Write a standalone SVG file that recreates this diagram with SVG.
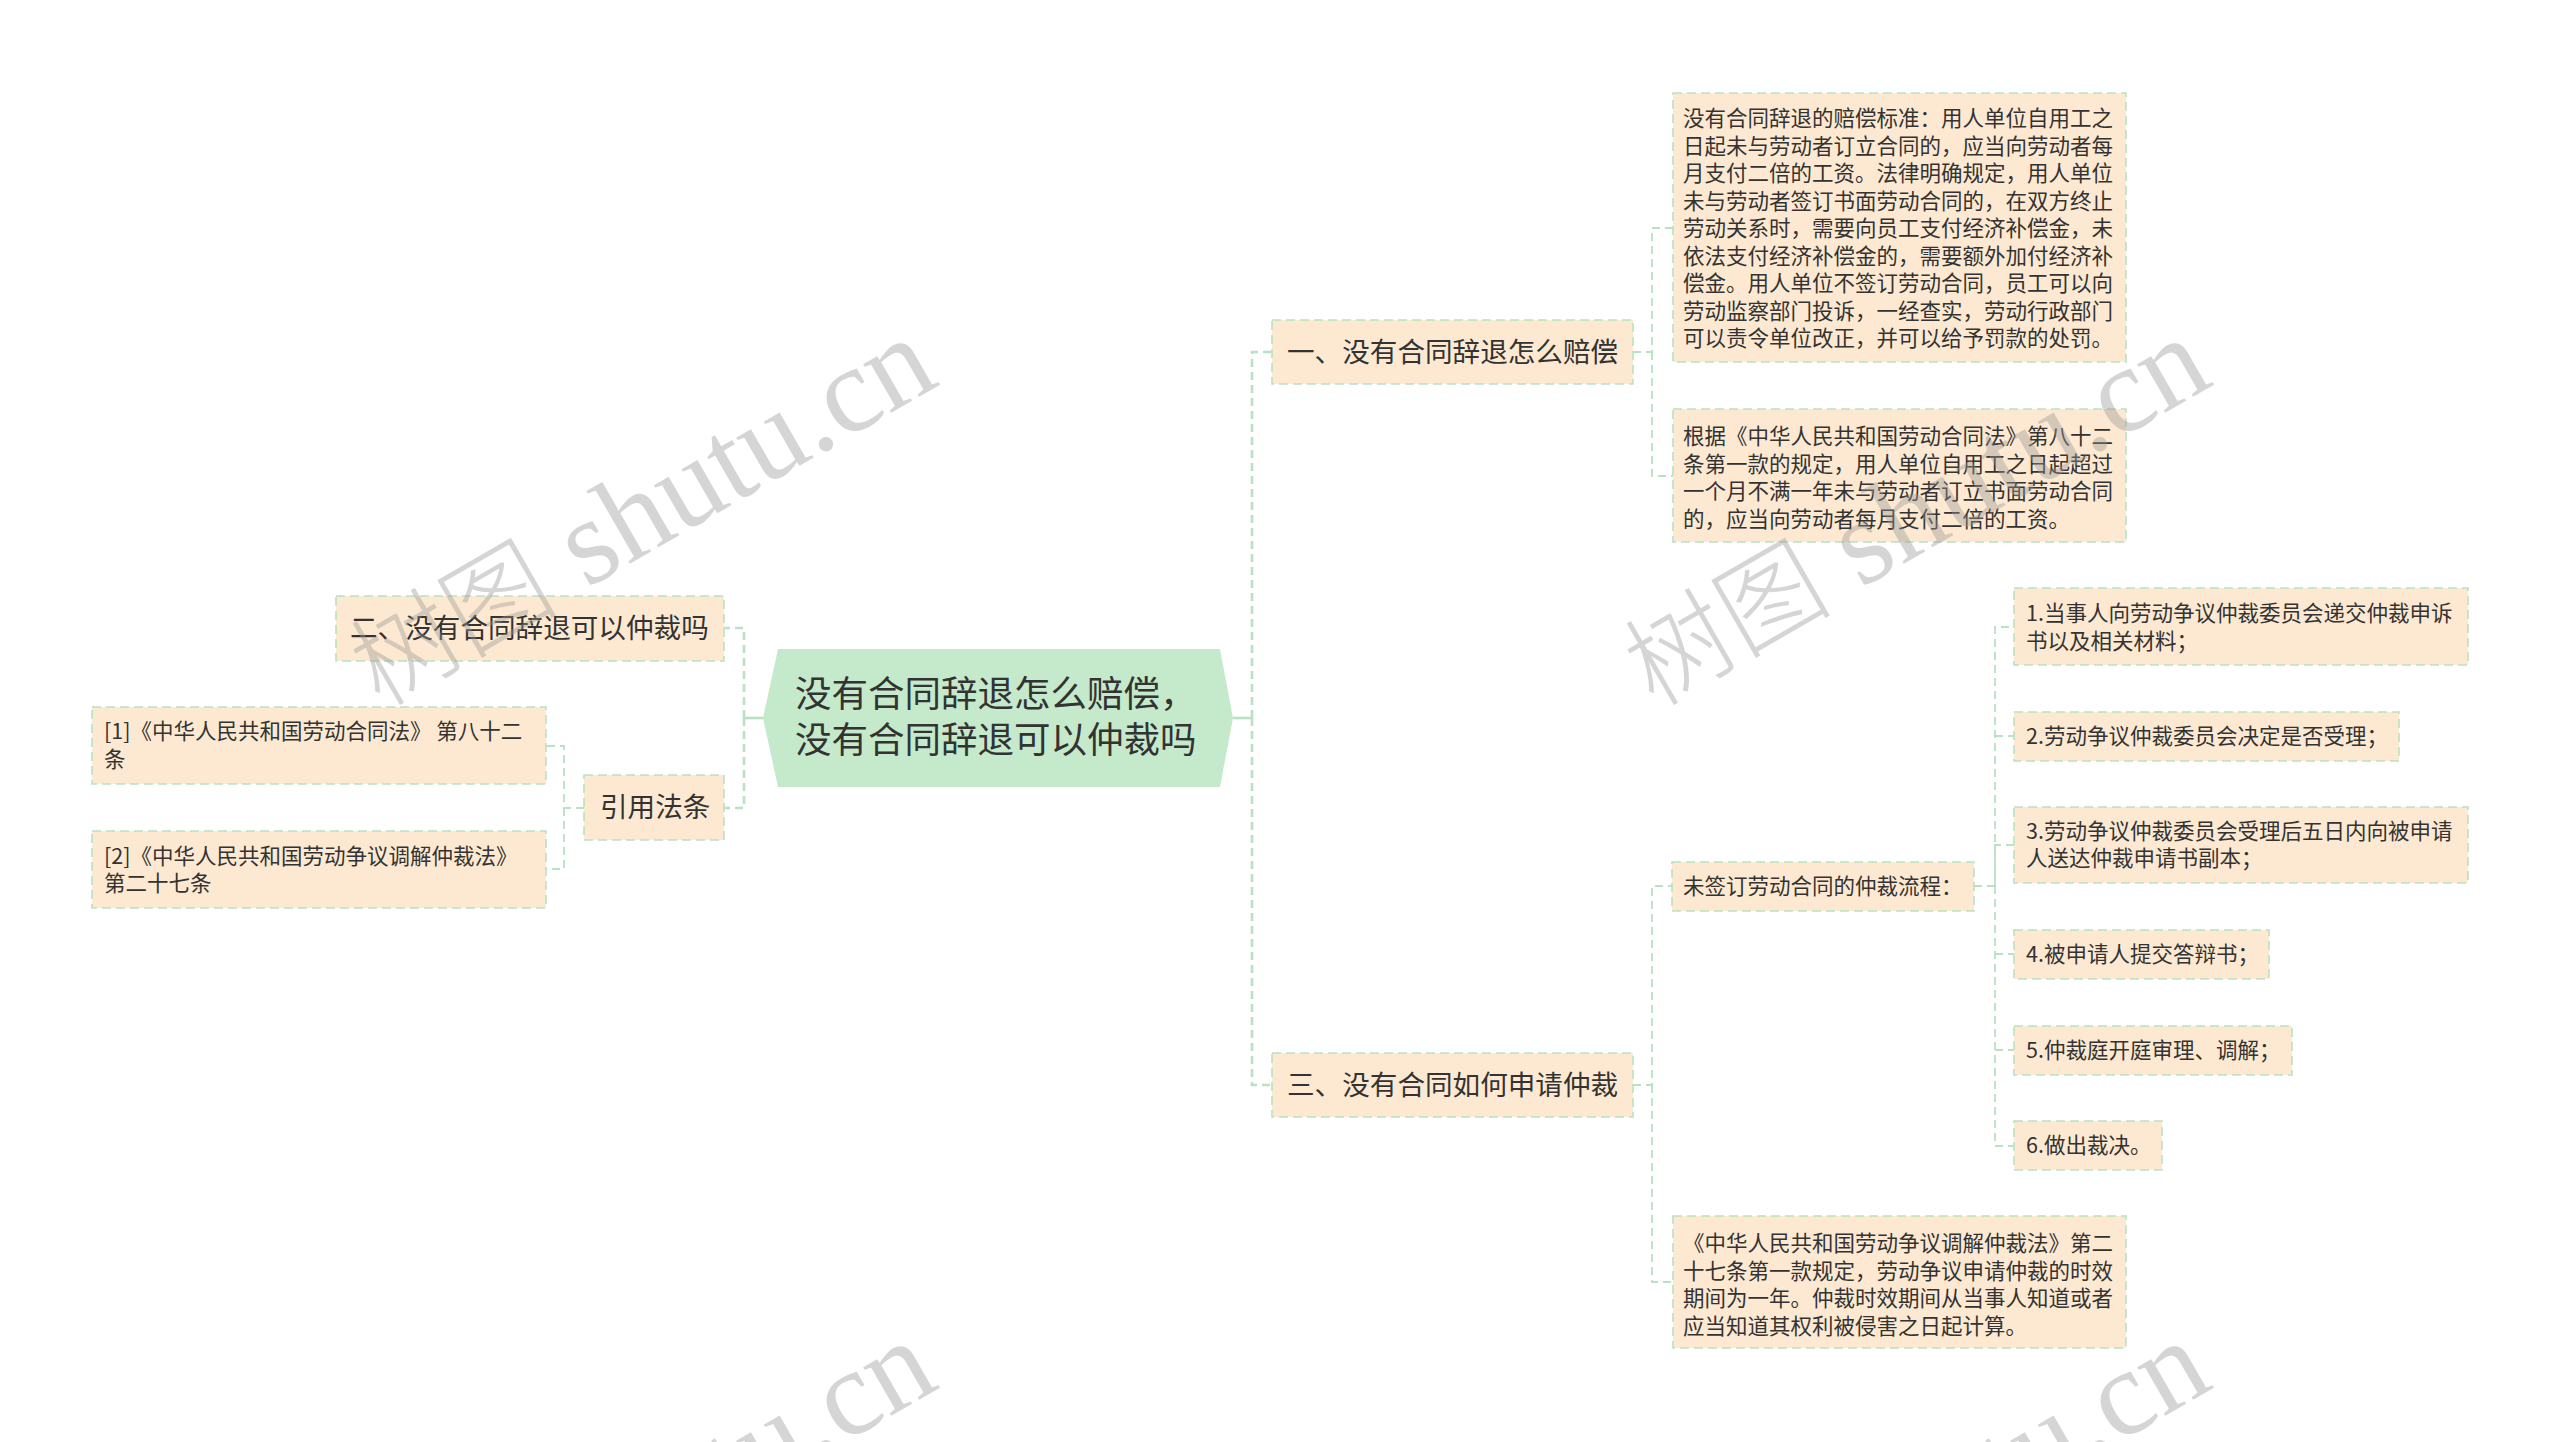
<svg xmlns="http://www.w3.org/2000/svg" width="2560" height="1442" viewBox="0 0 2560 1442">
<style>
.box{fill:#fde9d1;stroke:#b9e1c4;stroke-width:1.6;stroke-dasharray:9 5}
.t{font-family:"Noto Sans CJK SC","Microsoft YaHei",sans-serif;fill:#333333}
.s{font-size:21.5px}
.m{font-size:27.6px}
.c{font-size:36.5px}
.ln{fill:none;stroke:#b9e1c4;stroke-width:1.8;stroke-dasharray:8 5}
.ln1{fill:none;stroke:#b9e1c4;stroke-width:2.6;stroke-dasharray:8 5}
.solid{fill:none;stroke:#b9e1c4;stroke-width:2.6}
.wm{font-family:"Liberation Serif","Noto Sans CJK SC",serif;font-size:122px;fill:#969696;fill-opacity:0.4}
.wmc{font-family:"Noto Sans CJK SC",sans-serif;font-size:104px;font-weight:300}
</style>
<defs>
<text id="wmt" class="wm" x="0" y="0" transform="rotate(-30)"><tspan class="wmc">树图</tspan> shutu.cn</text>
</defs>
<rect width="2560" height="1442" fill="#ffffff"/>
<g id="connectors">
<path class="solid" d="M1233,718 H1252"/>
<path class="ln1" d="M1252,718 V352 H1272"/>
<path class="ln1" d="M1252,718 V1085 H1272"/>
<path class="solid" d="M763,718 H744"/>
<path class="ln1" d="M744,718 V628 H724"/>
<path class="ln1" d="M744,718 V808 H724"/>
<path class="ln" d="M584,808 H564 V746 H546"/>
<path class="ln" d="M564,808 V869 H546"/>
<path class="ln" d="M1633,352 H1652 V228 H1673"/>
<path class="ln" d="M1652,352 V476 H1673"/>
<path class="ln" d="M1633,1085 H1652 V886 H1672"/>
<path class="ln" d="M1652,1085 V1282 H1673"/>
<path class="ln" d="M1974,886 H1995 V627 H2014"/>
<path class="ln" d="M1995,736 H2014"/>
<path class="ln" d="M1995,886 V845 H2014"/>
<path class="ln" d="M1995,886 V1146 H2014"/>
<path class="ln" d="M1995,954 H2014"/>
<path class="ln" d="M1995,1050 H2014"/>
</g>
<g id="root">
<polygon points="763,718 778,649 1220,649 1233,718 1220,787 778,787" fill="#c5eacb"/>
<text class="t c" x="795" y="707">没有合同辞退怎么赔偿，</text>
<text class="t c" x="795" y="753">没有合同辞退可以仲裁吗</text>
</g>
<g id="n1">
<rect class="box" x="1272" y="320" width="361" height="64"/>
<text class="t m" x="1287" y="362">一、没有合同辞退怎么赔偿</text>
</g>
<g id="n1a">
<rect class="box" x="1673" y="93" width="453" height="269"/>
<text class="t s" x="1683" y="126">没有合同辞退的赔偿标准：用人单位自用工之</text>
<text class="t s" x="1683" y="153.5">日起未与劳动者订立合同的，应当向劳动者每</text>
<text class="t s" x="1683" y="181">月支付二倍的工资。法律明确规定，用人单位</text>
<text class="t s" x="1683" y="208.5">未与劳动者签订书面劳动合同的，在双方终止</text>
<text class="t s" x="1683" y="236">劳动关系时，需要向员工支付经济补偿金，未</text>
<text class="t s" x="1683" y="263.5">依法支付经济补偿金的，需要额外加付经济补</text>
<text class="t s" x="1683" y="291">偿金。用人单位不签订劳动合同，员工可以向</text>
<text class="t s" x="1683" y="318.5">劳动监察部门投诉，一经查实，劳动行政部门</text>
<text class="t s" x="1683" y="346">可以责令单位改正，并可以给予罚款的处罚。</text>
</g>
<g id="n1b">
<rect class="box" x="1673" y="409" width="453" height="133"/>
<text class="t s" x="1683" y="444">根据《中华人民共和国劳动合同法》第八十二</text>
<text class="t s" x="1683" y="471.5">条第一款的规定，用人单位自用工之日起超过</text>
<text class="t s" x="1683" y="499">一个月不满一年未与劳动者订立书面劳动合同</text>
<text class="t s" x="1683" y="526.5">的，应当向劳动者每月支付二倍的工资。</text>
</g>
<g id="n2">
<rect class="box" x="336" y="596" width="388" height="65"/>
<text class="t m" x="350" y="638">二、没有合同辞退可以仲裁吗</text>
</g>
<g id="n4">
<rect class="box" x="584" y="775" width="140" height="65"/>
<text class="t m" x="600" y="817">引用法条</text>
</g>
<g id="n4a">
<rect class="box" x="92" y="707" width="454" height="77"/>
<text class="t s" x="104" y="739">[1]《中华人民共和国劳动合同法》 第八十二</text>
<text class="t s" x="104" y="767">条</text>
</g>
<g id="n4b">
<rect class="box" x="92" y="831" width="454" height="77"/>
<text class="t s" x="104" y="864">[2]《中华人民共和国劳动争议调解仲裁法》</text>
<text class="t s" x="104" y="891">第二十七条</text>
</g>
<g id="n3">
<rect class="box" x="1272" y="1053" width="361" height="64"/>
<text class="t m" x="1287" y="1095">三、没有合同如何申请仲裁</text>
</g>
<g id="n3a">
<rect class="box" x="1672" y="862" width="302" height="49"/>
<text class="t s" x="1683" y="893.5">未签订劳动合同的仲裁流程：</text>
</g>
<g id="s1">
<rect class="box" x="2014" y="588" width="454" height="77"/>
<text class="t s" x="2026" y="621">1.当事人向劳动争议仲裁委员会递交仲裁申诉</text>
<text class="t s" x="2026" y="648.5">书以及相关材料；</text>
</g>
<g id="s2">
<rect class="box" x="2014" y="712" width="385" height="49"/>
<text class="t s" x="2026" y="744">2.劳动争议仲裁委员会决定是否受理；</text>
</g>
<g id="s3">
<rect class="box" x="2014" y="807" width="454" height="76"/>
<text class="t s" x="2026" y="838.5">3.劳动争议仲裁委员会受理后五日内向被申请</text>
<text class="t s" x="2026" y="866">人送达仲裁申请书副本；</text>
</g>
<g id="s4">
<rect class="box" x="2014" y="930" width="255" height="49"/>
<text class="t s" x="2026" y="962">4.被申请人提交答辩书；</text>
</g>
<g id="s5">
<rect class="box" x="2014" y="1026" width="278" height="49"/>
<text class="t s" x="2026" y="1058">5.仲裁庭开庭审理、调解；</text>
</g>
<g id="s6">
<rect class="box" x="2014" y="1121" width="148" height="49"/>
<text class="t s" x="2026" y="1153">6.做出裁决。</text>
</g>
<g id="n3b">
<rect class="box" x="1673" y="1216" width="453" height="132"/>
<text class="t s" x="1683" y="1251">《中华人民共和国劳动争议调解仲裁法》第二</text>
<text class="t s" x="1683" y="1278.5">十七条第一款规定，劳动争议申请仲裁的时效</text>
<text class="t s" x="1683" y="1306">期间为一年。仲裁时效期间从当事人知道或者</text>
<text class="t s" x="1683" y="1333.5">应当知道其权利被侵害之日起计算。</text>
</g>
<g id="watermarks">
<use href="#wmt" transform="translate(380,708)"/>
<use href="#wmt" transform="translate(1654,708)"/>
<use href="#wmt" transform="translate(380,1711)"/>
<use href="#wmt" transform="translate(1654,1711)"/>
</g>
</svg>
